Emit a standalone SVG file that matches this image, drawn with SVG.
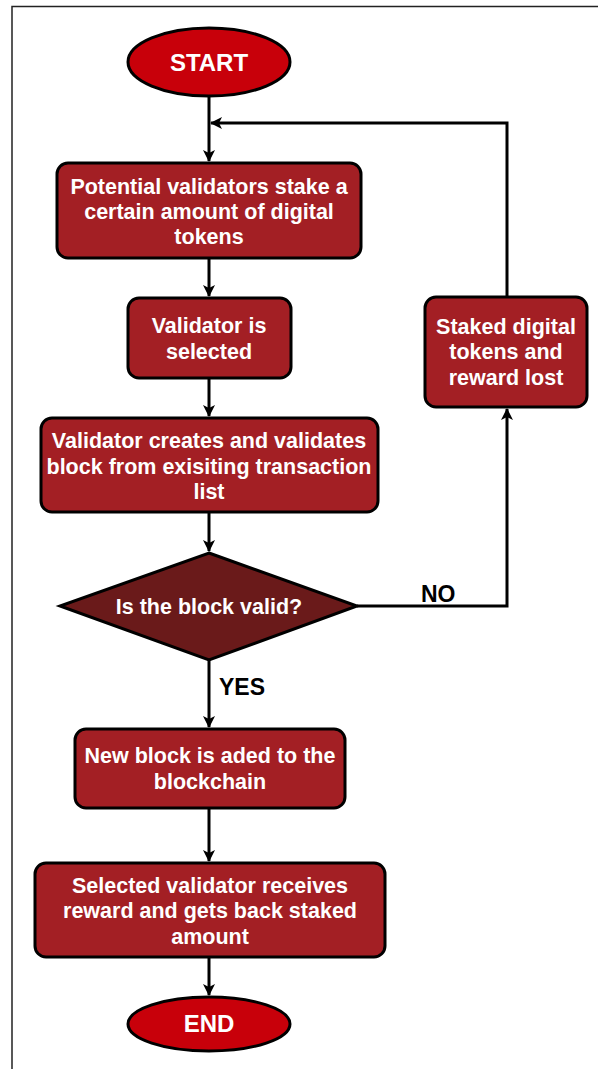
<svg xmlns="http://www.w3.org/2000/svg" width="598" height="1069" viewBox="0 0 598 1069">
  <style>
    .term { fill: #C8000A; stroke: #000; stroke-width: 3; }
    .proc { fill: #A31F24; stroke: #000; stroke-width: 3; }
    .dec { fill: #6A1A1A; stroke: #000; stroke-width: 3; }
    .lbl { font-family: "Liberation Sans", Arial, sans-serif; font-weight: bold; font-size: 21.5px; fill: #fff; text-anchor: middle; }
    .big { font-size: 24px; }
    .edge { fill: none; stroke: #000; stroke-width: 3; }
    .elbl { font-family: "Liberation Sans", Arial, sans-serif; font-weight: bold; font-size: 23px; fill: #000; }
  </style>
  <defs>
    <marker id="arrow" viewBox="0 0 12 12" refX="11" refY="6" markerWidth="12" markerHeight="12" markerUnits="userSpaceOnUse" orient="auto">
      <path d="M0,0 L12,6 L0,12 L3,6 Z" fill="#000"/>
    </marker>
  </defs>

  <rect width="598" height="1069" fill="#fff"/>
  <!-- page frame -->
  <path d="M12,1069 V6.5 H598" fill="none" stroke="#222" stroke-width="1.5"/>

  <g id="connectors">
    <path class="edge" d="M209,96 V161" marker-end="url(#arrow)"/>
    <path class="edge" d="M209,258 V296" marker-end="url(#arrow)"/>
    <path class="edge" d="M209,378 V416" marker-end="url(#arrow)"/>
    <path class="edge" d="M209,512 V551" marker-end="url(#arrow)"/>
    <path class="edge" d="M209,660 V727" marker-end="url(#arrow)"/>
    <path class="edge" d="M209,808 V861" marker-end="url(#arrow)"/>
    <path class="edge" d="M209,957 V995" marker-end="url(#arrow)"/>
    <path class="edge" d="M357,606 H507 V409" marker-end="url(#arrow)"/>
    <path class="edge" d="M507,297 V123 H211" marker-end="url(#arrow)"/>
    <text class="elbl" x="421" y="602">NO</text>
    <text class="elbl" x="219" y="695">YES</text>
  </g>

  <g id="start">
    <ellipse class="term" cx="209" cy="62" rx="81" ry="34"/>
    <text class="lbl big" x="209" y="70.5">START</text>
  </g>

  <g id="stake">
    <rect class="proc" x="57" y="163" width="304" height="95" rx="11"/>
    <text class="lbl" x="209" y="194">Potential validators stake a</text>
    <text class="lbl" x="209" y="219">certain amount of digital</text>
    <text class="lbl" x="209" y="244">tokens</text>
  </g>

  <g id="select">
    <rect class="proc" x="128" y="298" width="163" height="80" rx="11"/>
    <text class="lbl" x="209" y="333">Validator is</text>
    <text class="lbl" x="209" y="359">selected</text>
  </g>

  <g id="create">
    <rect class="proc" x="41" y="418" width="337" height="94" rx="11"/>
    <text class="lbl" x="209" y="448">Validator creates and validates</text>
    <text class="lbl" x="209" y="474">block from exisiting transaction</text>
    <text class="lbl" x="209" y="499">list</text>
  </g>

  <g id="valid">
    <polygon class="dec" points="209,553 357,606 209,660 60,606"/>
    <text class="lbl" x="209" y="614">Is the block valid?</text>
  </g>

  <g id="lost">
    <rect class="proc" x="425" y="297" width="162" height="110" rx="11"/>
    <text class="lbl" x="506" y="334">Staked digital</text>
    <text class="lbl" x="506" y="359">tokens and</text>
    <text class="lbl" x="506" y="385">reward lost</text>
  </g>

  <g id="added">
    <rect class="proc" x="75" y="729" width="270" height="79" rx="11"/>
    <text class="lbl" x="210" y="763">New block is aded to the</text>
    <text class="lbl" x="210" y="789">blockchain</text>
  </g>

  <g id="reward">
    <rect class="proc" x="35" y="863" width="350" height="94" rx="11"/>
    <text class="lbl" x="210" y="893">Selected validator receives</text>
    <text class="lbl" x="210" y="918">reward and gets back staked</text>
    <text class="lbl" x="210" y="944">amount</text>
  </g>

  <g id="end">
    <ellipse class="term" cx="209" cy="1024" rx="81" ry="27"/>
    <text class="lbl big" x="209" y="1032">END</text>
  </g>
</svg>
